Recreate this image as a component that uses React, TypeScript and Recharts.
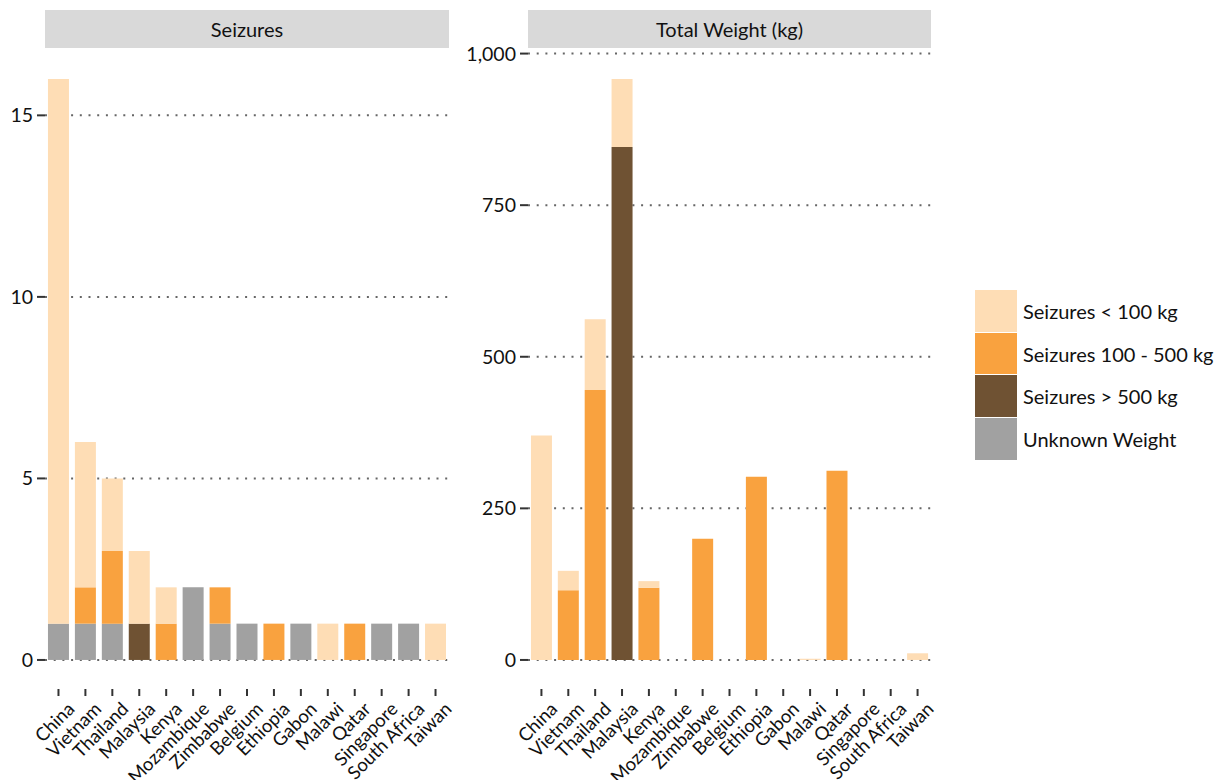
import React from "react";
import { BarChart, Bar, XAxis, YAxis, CartesianGrid } from "recharts";

const countries = [
  "China", "Vietnam", "Thailand", "Malaysia", "Kenya", "Mozambique", "Zimbabwe",
  "Belgium", "Ethiopia", "Gabon", "Malawi", "Qatar", "Singapore", "South Africa", "Taiwan",
];

// seizure counts by weight class
const countUnder100 = [15, 4, 2, 2, 1, 0, 0, 0, 0, 0, 1, 0, 0, 0, 1];
const count100to500 = [0, 1, 2, 0, 1, 0, 1, 0, 1, 0, 0, 1, 0, 0, 0];
const countOver500 = [0, 0, 0, 1, 0, 0, 0, 0, 0, 0, 0, 0, 0, 0, 0];
const countUnknown = [1, 1, 1, 0, 0, 2, 1, 1, 0, 1, 0, 0, 1, 1, 0];

// total weight (kg) by weight class
const weightUnder100 = [370, 32, 117, 112, 11, 0, 0, 0, 0, 0, 2, 0, 0, 0, 11];
const weight100to500 = [0, 115, 445, 0, 119, 0, 200, 0, 302, 0, 0, 312, 0, 0, 0];
const weightOver500 = [0, 0, 0, 846, 0, 0, 0, 0, 0, 0, 0, 0, 0, 0, 0];

const seizureTicks = [0, 5, 10, 15];
const weightTicks = [0, 250, 500, 750, 1000];

const seriesLabels = ["Seizures < 100 kg", "Seizures 100 - 500 kg", "Seizures > 500 kg", "Unknown Weight"];
const seriesColors = ["#FEDDB5", "#F9A23F", "#6F5233", "#A1A1A1"];

const FONT = "Lato, 'Open Sans', sans-serif";

const seizureRows = countries.map((name, i) => ({
  name,
  under100: countUnder100[i],
  mid: count100to500[i],
  over500: countOver500[i],
  unknown: countUnknown[i],
}));

const weightRows = countries.map((name, i) => ({
  name,
  under100: weightUnder100[i],
  mid: weight100to500[i],
  over500: weightOver500[i],
  unknown: 0,
}));

const numberFormat = new Intl.NumberFormat("en-US");

function CountryTick(props: any) {
  const { x, y, payload } = props;
  const ax = x + 7;
  const ay = y + 2;
  return (
    <text
      x={ax}
      y={ay}
      transform={`rotate(-45, ${ax}, ${ay})`}
      textAnchor="end"
      dominantBaseline="hanging"
      fontSize={18.5}
      fontFamily={FONT}
      fill="#111"
    >
      {payload.value}
    </text>
  );
}

function Strip({ left, width, label }: { left: number; width: number; label: string }) {
  return (
    <div
      style={{
        position: "absolute",
        left,
        top: 10,
        width,
        height: 38,
        background: "#D9D9D9",
        display: "flex",
        alignItems: "center",
        justifyContent: "center",
        fontFamily: FONT,
        fontSize: 20,
        color: "#111",
      }}
    >
      {label}
    </div>
  );
}

function Panel({
  data,
  domain,
  ticks,
  yWidth,
  width,
}: {
  data: any[];
  domain: [number, number];
  ticks: number[];
  yWidth: number;
  width: number;
}) {
  return (
    <BarChart
      width={width}
      height={780}
      data={data}
      margin={{ top: 50, right: 4, left: 0, bottom: 0 }}
      barCategoryGap="11%"
    >
      <CartesianGrid
        vertical={false}
        horizontalValues={ticks}
        stroke="#666"
        strokeWidth={2}
        strokeDasharray="2 6.7"
      />
      <XAxis
        dataKey="name"
        interval={0}
        height={91}
        axisLine={false}
        tickSize={7}
        tickLine={{ stroke: "#333", strokeWidth: 2 }}
        tick={<CountryTick />}
      />
      <YAxis
        type="number"
        domain={domain}
        ticks={ticks}
        allowDataOverflow
        width={yWidth}
        axisLine={false}
        tickSize={8}
        tickMargin={4}
        tickLine={{ stroke: "#333", strokeWidth: 2 }}
        tick={{ fill: "#111", fontSize: 19.5, fontFamily: FONT }}
        tickFormatter={(v) => numberFormat.format(Number(v))}
      />
      <Bar dataKey="unknown" stackId="s" fill={seriesColors[3]} isAnimationActive={false} />
      <Bar dataKey="over500" stackId="s" fill={seriesColors[2]} isAnimationActive={false} />
      <Bar dataKey="mid" stackId="s" fill={seriesColors[1]} isAnimationActive={false} />
      <Bar dataKey="under100" stackId="s" fill={seriesColors[0]} isAnimationActive={false} />
    </BarChart>
  );
}

export default function App() {
  return (
    <div style={{ position: "absolute", left: 0, top: 0, width: 1222, height: 780, background: "#fff" }}>
      <Strip left={45} width={404} label="Seizures" />
      <Strip left={528} width={403} label="Total Weight (kg)" />
      <div style={{ position: "absolute", left: 0, top: 0 }}>
        <Panel data={seizureRows} domain={[-0.8, 16.8]} ticks={seizureTicks} yWidth={45} width={453} />
      </div>
      <div style={{ position: "absolute", left: 460, top: 0 }}>
        <Panel data={weightRows} domain={[-47.9, 1005.9]} ticks={weightTicks} yWidth={68} width={475} />
      </div>
      <div style={{ position: "absolute", left: 975, top: 290 }}>
        {seriesLabels.map((label, i) => (
          <div key={label} style={{ display: "flex", alignItems: "center", height: 42.5 }}>
            <div
              style={{
                width: 42,
                height: 42.5,
                background: seriesColors[i],
                borderBottom: i < 3 ? "1px solid #fff" : "none",
                boxSizing: "border-box",
              }}
            />
            <span style={{ marginLeft: 6, fontFamily: FONT, fontSize: 20, color: "#111", whiteSpace: "nowrap" }}>
              {label}
            </span>
          </div>
        ))}
      </div>
    </div>
  );
}
